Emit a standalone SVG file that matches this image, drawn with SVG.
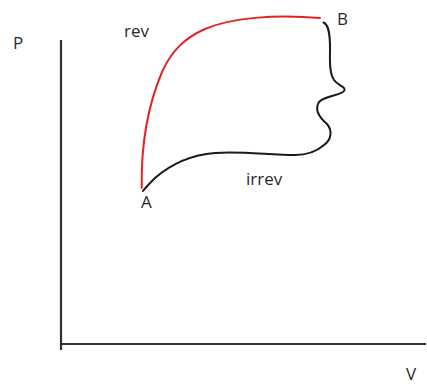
<svg xmlns="http://www.w3.org/2000/svg" width="427" height="384" viewBox="0 0 427 384">
<style>
.lbl{font-family:"Open Sans","Liberation Sans",sans-serif;font-size:17px;fill:#2a2a2a}
.axis{stroke:#333;stroke-width:2.2;fill:none}
.curve{fill:none;stroke-width:2;stroke-linecap:round;stroke-linejoin:round}
</style>
<rect width="427" height="384" fill="#fff"/>
<g id="axes">
<line class="axis" x1="61" y1="40" x2="61" y2="350"/>
<line class="axis" x1="60" y1="344" x2="426" y2="344"/>
</g>
<g id="connectors">
<path id="rev-path" class="curve" stroke="#e02424" d="M141.7,188 C141,145 148,105 162,72 C172,50 185,38 205,29 C230,18 275,14 320,18"/>
<path id="irrev-path" class="curve" stroke="#1a1a1a" d="M323.5,22.5 C329,25 330,35 330,48 C330,60 329,72 334,80 C338,86 347,87 344,91 C340,96 326,95 319,102 C314,110 320,118 327,124 C333,131 331,140 324,145 C316,152 305,155 295,155 C270,155 240,151 215,153 C190,155 170,165 155,178 C150,183 146,187 143,191"/>
</g>
<g id="label-P"><text class="lbl" x="13" y="49">P</text></g>
<g id="label-V"><text class="lbl" x="406" y="380">V</text></g>
<g id="label-rev"><text class="lbl" x="124" y="37">rev</text></g>
<g id="label-B"><text class="lbl" x="337" y="25">B</text></g>
<g id="label-A"><text class="lbl" x="141" y="208">A</text></g>
<g id="label-irrev"><text class="lbl" x="246" y="185">irrev</text></g>
</svg>
